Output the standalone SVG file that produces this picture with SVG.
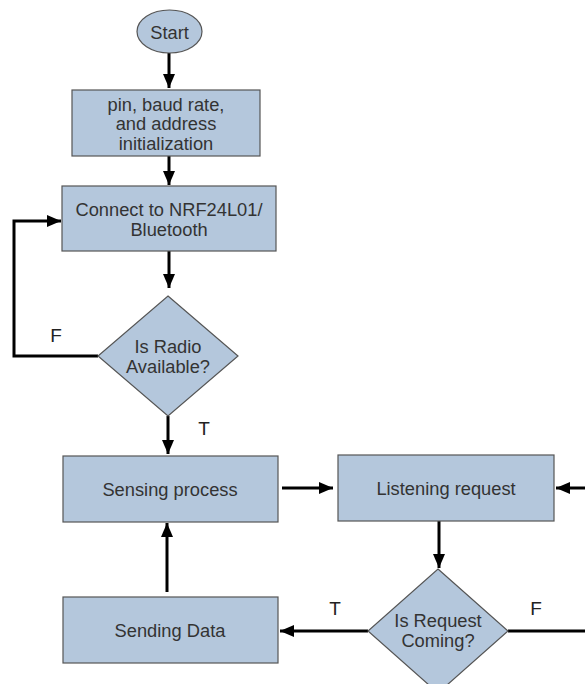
<svg xmlns="http://www.w3.org/2000/svg" width="585" height="684" viewBox="0 0 585 684">
<style>
.n{fill:#b4c7dc;stroke:#555;stroke-width:1.2}
.t{font-family:"Liberation Sans",Arial,sans-serif;font-size:18.3px;fill:#333;text-anchor:middle;dominant-baseline:central}
.l{font-family:"Liberation Sans",Arial,sans-serif;font-size:19px;fill:#222;text-anchor:middle;dominant-baseline:central}
.c{fill:none;stroke:#000;stroke-width:3}
.a{marker-end:url(#ah)}
</style>
<defs>
<marker id="ah" markerUnits="userSpaceOnUse" markerWidth="14" markerHeight="12" refX="14" refY="6" orient="auto">
<path d="M0,0 L14,6 L0,12 z" fill="#000"/>
</marker>
</defs>
<rect width="585" height="684" fill="#fff"/>
<g id="connectors">
<line class="c a" x1="169" y1="53" x2="169" y2="88"/>
<line class="c a" x1="169" y1="156" x2="169" y2="185"/>
<line class="c a" x1="169" y1="251" x2="169" y2="288"/>
<polyline class="c a" points="98,356 14,356 14,221 61,221"/>
<line class="c a" x1="168" y1="416" x2="168" y2="454"/>
<line class="c a" x1="167" y1="592" x2="167" y2="523"/>
<line class="c a" x1="282" y1="488" x2="333" y2="488"/>
<line class="c a" x1="585" y1="488" x2="556" y2="488"/>
<line class="c a" x1="439" y1="521" x2="439" y2="568"/>
<line class="c a" x1="368" y1="631" x2="280" y2="631"/>
<line class="c" x1="508" y1="631" x2="585" y2="631"/>
<text class="l" x="56" y="335">F</text>
<text class="l" x="204" y="428">T</text>
<text class="l" x="335" y="608">T</text>
<text class="l" x="536" y="608">F</text>
</g>
<g id="start">
<ellipse class="n" cx="169.5" cy="31.5" rx="32.5" ry="21.5"/>
<text class="t" x="169.5" y="32">Start</text>
</g>
<g id="init">
<rect class="n" x="72" y="90" width="188" height="66"/>
<text class="t" x="166" y="104">pin, baud rate,</text>
<text class="t" x="166" y="123">and address</text>
<text class="t" x="166" y="143">initialization</text>
</g>
<g id="connect">
<rect class="n" x="62" y="186" width="214" height="65"/>
<text class="t" x="169" y="209">Connect to NRF24L01/</text>
<text class="t" x="169" y="229">Bluetooth</text>
</g>
<g id="radio">
<polygon class="n" points="168,296 238,356 168,416 98,356"/>
<text class="t" x="168" y="346">Is Radio</text>
<text class="t" x="168" y="366">Available?</text>
</g>
<g id="sensing">
<rect class="n" x="63" y="456" width="215" height="66"/>
<text class="t" x="170" y="489">Sensing process</text>
</g>
<g id="listening">
<rect class="n" x="338" y="455" width="216" height="66"/>
<text class="t" x="446" y="488">Listening request</text>
</g>
<g id="request">
<polygon class="n" points="438,569 508,631 438,693 368,631"/>
<text class="t" x="438" y="620">Is Request</text>
<text class="t" x="438" y="640">Coming?</text>
</g>
<g id="sending">
<rect class="n" x="63" y="597" width="215" height="66"/>
<text class="t" x="170" y="630">Sending Data</text>
</g>
</svg>
